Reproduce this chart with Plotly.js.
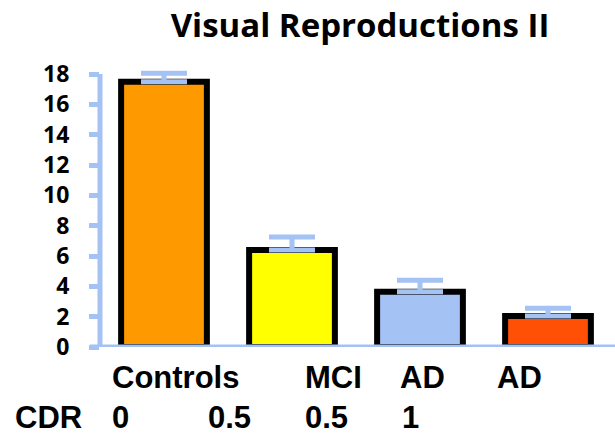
<!DOCTYPE html>
<html>
<head>
<meta charset="utf-8">
<script src="https://cdn.plot.ly/plotly-3.0.1.min.js"></script>
<style>html,body{margin:0;padding:0;background:#fff;}#chart{width:615px;height:441px;}</style>
</head>
<body>
<div id="chart"></div>
<script>
// ---- data ----
var categories = ['Controls (CDR 0)', 'MCI (CDR 0.5)', 'AD (CDR 0.5)', 'AD (CDR 1)'];
var values = [17.5, 6.4, 3.65, 2.05];
var errors = [0.55, 0.85, 0.75, 0.5];
var barColors = ['#FF9900', '#FFFF00', '#A4C2F4', '#FF5005'];
var groupLabels = ['Controls', 'MCI', 'AD', 'AD'];
var cdrLabels = ['CDR', '0', '0.5', '0.5', '1'];
var yTicks = [0, 2, 4, 6, 8, 10, 12, 14, 16, 18];
var titleText = 'Visual Reproductions II';

// ---- layout helpers (pixel placement) ----
var W = 615, H = 441;
var mL = 100, mR = 3, mT = 68, mB = 94;
var pw = W - mL - mR, ph = H - mT - mB;
function px2x(p) { return (p - mL) / pw; }
function py2y(p) { return (H - mB - p) / ph; }
var groupX = [111, 304, 399, 496];
var cdrX = [14, 111, 207, 304, 401];
var row1Y = 377, row2Y = 417;
var axisBlue = '#A4C2F4';
var labelFont = {family: 'Liberation Sans, Arial, sans-serif', size: 31, color: '#000', weight: 'bold'};

var annotations = [];
groupLabels.forEach(function (t, i) {
  annotations.push({text: t, xref: 'paper', yref: 'paper', x: px2x(groupX[i]), y: py2y(row1Y),
    xanchor: 'left', yanchor: 'middle', showarrow: false, borderpad: 0, font: labelFont});
});
cdrLabels.forEach(function (t, i) {
  annotations.push({text: t, xref: 'paper', yref: 'paper', x: px2x(cdrX[i]), y: py2y(row2Y),
    xanchor: 'left', yanchor: 'middle', showarrow: false, borderpad: 0, font: labelFont});
});

var trace = {
  type: 'bar',
  x: categories,
  y: values,
  marker: {color: barColors, line: {color: '#000', width: 6}},
  error_y: {type: 'data', symmetric: false, array: errors, arrayminus: errors.map(function () { return 0; }),
    color: axisBlue, thickness: 5, width: 23},
  hoverinfo: 'none'
};

var layout = {
  width: W, height: H,
  margin: {l: mL, r: mR, t: mT, b: mB, pad: 0},
  paper_bgcolor: '#fff', plot_bgcolor: '#fff',
  showlegend: false,
  bargap: 0.33,
  title: {text: titleText, xref: 'paper', x: px2x(360), xanchor: 'center', yref: 'container', y: 1 - 25 / H, yanchor: 'middle',
    font: {family: 'Open Sans, sans-serif', size: 33, color: '#000', weight: 'bold'}},
  xaxis: {type: 'category', showticklabels: false, ticks: '', showline: false, showgrid: false, zeroline: false, range: [-0.5, 3.5], fixedrange: true},
  yaxis: {range: [0, 18.4], tickvals: yTicks, ticktext: yTicks.map(String), ticks: 'outside', ticklen: 10, tickwidth: 5, tickcolor: axisBlue,
    showline: false, showgrid: false, zeroline: false, ticklabelstandoff: 15,
    tickfont: {family: 'Open Sans, sans-serif', size: 23, color: '#000', weight: 'bold'}, fixedrange: true},
  shapes: [
    {type: 'line', xref: 'paper', yref: 'y', x0: 0, x1: 0, y0: 0, y1: 18, line: {color: axisBlue, width: 5}, layer: 'above'},
    {type: 'line', xref: 'paper', yref: 'y', x0: px2x(90), x1: px2x(615), y0: 0, y1: 0, line: {color: axisBlue, width: 5}, layer: 'above'}
  ],
  annotations: annotations
};

Plotly.newPlot('chart', [trace], layout, {staticPlot: true, displayModeBar: false});
</script>
</body>
</html>
